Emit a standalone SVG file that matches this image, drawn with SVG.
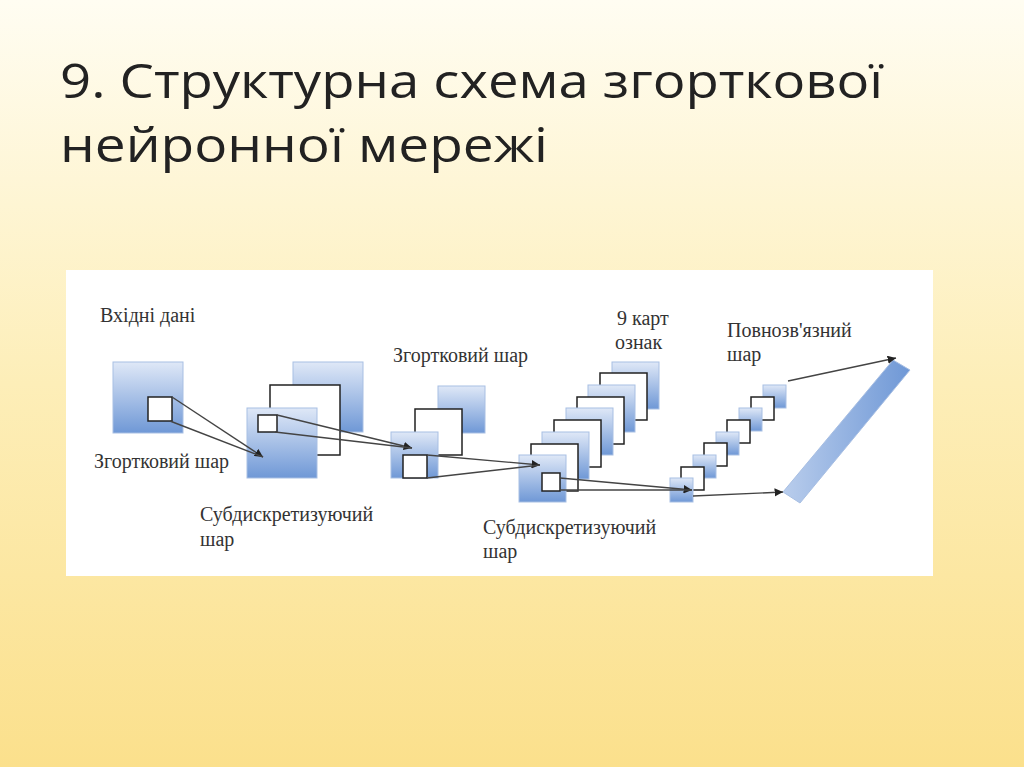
<svg xmlns="http://www.w3.org/2000/svg" width="1024" height="767" viewBox="0 0 1024 767">
<defs>
<linearGradient id="bg" x1="0" y1="0" x2="0" y2="1"><stop offset="0" stop-color="#fffdf2"/><stop offset="0.5" stop-color="#fdeeb8"/><stop offset="1" stop-color="#fbe08c"/></linearGradient>
<linearGradient id="bl" x1="0" y1="0" x2="0" y2="1"><stop offset="0" stop-color="#dfe8f7"/><stop offset="1" stop-color="#6f98d6"/></linearGradient>
<linearGradient id="bar" x1="0" y1="0" x2="1" y2="0"><stop offset="0" stop-color="#b9cdec"/><stop offset="1" stop-color="#6f98d6"/></linearGradient>
<marker id="ah" viewBox="0 0 10 10" refX="10" refY="5" markerWidth="6" markerHeight="6" orient="auto"><path d="M0,0 L10,5 L0,10 z" fill="#222"/></marker>
<style>
.b{fill:url(#bl);stroke:#a8bfe3;stroke-width:1}
.w{fill:#fff;stroke:#222;stroke-width:1.5}
.t{font-family:"Liberation Serif",serif;font-size:20px;fill:#333}
.c{stroke:#444;stroke-width:1.4;fill:none}
.ttl{font-family:"Open Sans","Liberation Sans",sans-serif;font-size:48px;fill:#222}
</style>
</defs>
<rect width="1024" height="767" fill="url(#bg)"/>
<text class="ttl" x="60" y="98" textLength="823" lengthAdjust="spacingAndGlyphs">9. Структурна схема згорткової</text>
<text class="ttl" x="60" y="162" textLength="488" lengthAdjust="spacingAndGlyphs">нейронної мережі</text>
<rect x="66" y="270" width="867" height="306" fill="#fff"/>
<g id="input"><rect class="b" x="113" y="362" width="70" height="71"/><rect class="w" x="148" y="397" width="24" height="24"/></g>
<g id="sub1"><rect class="b" x="293" y="362" width="70" height="70"/><rect class="w" x="270" y="385" width="70" height="70"/><rect class="b" x="247" y="408" width="70" height="70"/><rect class="w" x="258" y="415" width="19" height="17"/></g>
<g id="conv2"><rect class="b" x="438" y="386" width="47" height="47"/><rect class="w" x="415" y="409" width="47" height="46"/><rect class="b" x="391" y="432" width="47" height="46"/><rect class="w" x="403" y="455" width="24" height="23"/></g>
<g id="maps9">
<rect class="b" x="612" y="362" width="47" height="47"/>
<rect class="w" x="600" y="373" width="47" height="47"/>
<rect class="b" x="588" y="385" width="47" height="47"/>
<rect class="w" x="577" y="397" width="47" height="47"/>
<rect class="b" x="566" y="408" width="47" height="47"/>
<rect class="w" x="554" y="420" width="47" height="47"/>
<rect class="b" x="542" y="432" width="47" height="47"/>
<rect class="w" x="531" y="444" width="47" height="47"/>
<rect class="b" x="519" y="455" width="47" height="47"/>
<rect class="w" x="542" y="473" width="18" height="18"/>
</g>
<g id="maps-small">
<rect class="b" x="763" y="385" width="23" height="23"/>
<rect class="w" x="751" y="397" width="23" height="23"/>
<rect class="b" x="739" y="408" width="23" height="23"/>
<rect class="w" x="727" y="420" width="23" height="23"/>
<rect class="b" x="716" y="432" width="23" height="23"/>
<rect class="w" x="704" y="443" width="23" height="23"/>
<rect class="b" x="693" y="455" width="23" height="23"/>
<rect class="w" x="681" y="467" width="23" height="23"/>
<rect class="b" x="670" y="478" width="23" height="24"/>
</g>
<g id="fc"><polygon points="893,360 910,370 800,503 783,492" fill="url(#bar)" stroke="#a8bfe3"/></g>
<g id="connectors">
<line class="c" x1="172" y1="397" x2="263" y2="457" marker-end="url(#ah)"/>
<line class="c" x1="170" y1="421" x2="263" y2="457"/>
<line class="c" x1="277" y1="415" x2="412" y2="448" marker-end="url(#ah)"/>
<line class="c" x1="275" y1="432" x2="412" y2="448"/>
<line class="c" x1="427" y1="455" x2="540" y2="465" marker-end="url(#ah)"/>
<line class="c" x1="427" y1="478" x2="540" y2="465"/>
<line class="c" x1="560" y1="478" x2="692" y2="490" marker-end="url(#ah)"/>
<line class="c" x1="560" y1="490" x2="692" y2="490"/>
<line class="c" x1="693" y1="496" x2="783" y2="492" marker-end="url(#ah)"/>
<line class="c" x1="788" y1="381" x2="896" y2="358" marker-end="url(#ah)"/>
</g>
<g id="labels">
<text class="t" x="100" y="322">Вхідні дані</text>
<text class="t" x="94" y="468">Згортковий шар</text>
<text class="t" x="200" y="521">Субдискретизуючий</text>
<text class="t" x="200" y="546">шар</text>
<text class="t" x="393" y="362">Згортковий шар</text>
<text class="t" x="617" y="325">9 карт</text>
<text class="t" x="615" y="349">ознак</text>
<text class="t" x="727" y="337">Повнозв'язний</text>
<text class="t" x="727" y="361">шар</text>
<text class="t" x="483" y="534">Субдискретизуючий</text>
<text class="t" x="483" y="558">шар</text>
</g>
</svg>
